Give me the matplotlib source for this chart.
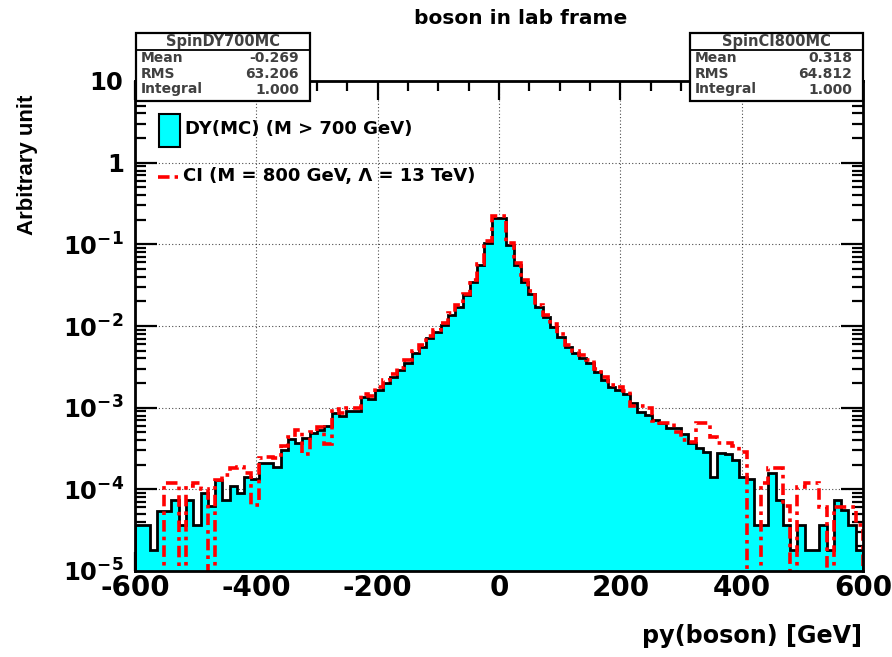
import numpy as np
import matplotlib
matplotlib.use("Agg")
import matplotlib.pyplot as plt
from matplotlib.patches import Rectangle
from matplotlib.lines import Line2D
import matplotlib.ticker as mticker

# ---------------- data ----------------
edges = np.linspace(-600, 600, 101)

dy_values = [
    3.7e-5, 3.7e-5, 1.8e-5, 5.5e-5, 5.5e-5, 7.4e-5, 3.7e-5, 7.4e-5, 3.7e-5, 9.1e-5,
    6.2e-5, 1.3e-4, 7.4e-5, 1.1e-4, 9.1e-5, 1.4e-4, 1.35e-4, 2.1e-4, 2.1e-4, 1.9e-4,
    3.0e-4, 4.1e-4, 3.7e-4, 4.3e-4, 4.9e-4, 5.4e-4, 5.9e-4, 8.7e-4, 7.9e-4, 9.1e-4,
    9.1e-4, 1.35e-3, 1.26e-3, 1.66e-3, 2.0e-3, 2.4e-3, 2.9e-3, 3.5e-3, 4.7e-3, 5.5e-3,
    7.1e-3, 8.5e-3, 1.02e-2, 1.38e-2, 1.7e-2, 2.4e-2, 3.5e-2, 5.6e-2, 0.105, 0.21,
    0.21, 0.098, 5.6e-2, 3.5e-2, 2.5e-2, 1.7e-2, 1.29e-2, 9.8e-3, 7.4e-3, 5.5e-3,
    4.7e-3, 4.1e-3, 3.5e-3, 2.75e-3, 2.2e-3, 1.8e-3, 1.66e-3, 1.45e-3, 1.15e-3, 8.9e-4,
    8.1e-4, 7.1e-4, 6.5e-4, 5.6e-4, 5.6e-4, 4.7e-4, 3.7e-4, 3.2e-4, 2.9e-4, 1.4e-4,
    2.8e-4, 2.7e-4, 2.3e-4, 1.4e-4, 1.35e-4, 3.7e-5, 3.7e-5, 1.6e-4, 7.4e-5, 3.7e-5,
    1.8e-5, 3.7e-5, 1.8e-5, 1.8e-5, 3.7e-5, 1.8e-5, 7.4e-5, 5.6e-5, 3.7e-5, 1.8e-5,
]

ci_values = [
    0, 0, 0, 0, 1.2e-4, 1.2e-4, 0, 1.1e-4, 1.2e-4, 1.0e-4,
    0, 1.3e-4, 1.5e-4, 1.8e-4, 1.9e-4, 1.6e-4, 6.4e-5, 2.4e-4, 2.5e-4, 2.4e-4,
    3.4e-4, 4.4e-4, 5.4e-4, 2.7e-4, 5.0e-4, 5.8e-4, 3.6e-4, 9.5e-4, 8.7e-4, 1.0e-3,
    1.0e-3, 1.45e-3, 1.4e-3, 1.8e-3, 2.2e-3, 2.6e-3, 3.1e-3, 3.8e-3, 5.0e-3, 5.9e-3,
    7.6e-3, 9.0e-3, 1.1e-2, 1.45e-2, 1.8e-2, 2.5e-2, 3.7e-2, 5.8e-2, 0.11, 0.22,
    0.22, 0.105, 5.9e-2, 3.7e-2, 2.7e-2, 1.8e-2, 1.38e-2, 1.05e-2, 8.0e-3, 5.9e-3,
    5.0e-3, 4.4e-3, 3.8e-3, 3.0e-3, 2.4e-3, 1.9e-3, 1.8e-3, 1.6e-3, 1.05e-3, 1.05e-3,
    1.0e-3, 6.8e-4, 6.5e-4, 6.5e-4, 5.0e-4, 4.0e-4, 3.8e-4, 6.5e-4, 6.5e-4, 4.4e-4,
    3.7e-4, 3.7e-4, 3.4e-4, 2.9e-4, 0, 0, 1.2e-4, 1.8e-4, 1.8e-4, 6.2e-5,
    0, 1.07e-4, 1.2e-4, 1.2e-4, 6.0e-5, 0, 6.0e-5, 6.0e-5, 6.0e-5, 3.7e-5,
]

y_decades = [1e-5, 1e-4, 1e-3, 1e-2, 1e-1, 1, 10]
x_ticks = [-600, -400, -200, 0, 200, 400, 600]

title = "boson in lab frame"
xlabel = "py(boson) [GeV]"
ylabel = "Arbitrary unit"
legend_dy = "DY(MC) (M > 700 GeV)"
legend_ci = "CI (M = 800 GeV, \u039b = 13 TeV)"
stats_dy = ("SpinDY700MC", [("Mean", "-0.269"), ("RMS", "63.206"), ("Integral", "1.000")])
stats_ci = ("SpinCI800MC", [("Mean", "0.318"), ("RMS", "64.812"), ("Integral", "1.000")])

# ---------------- figure ----------------
W, H = 892, 657
plt.rcParams['font.family'] = ['DejaVu Sans']
plt.rcParams['mathtext.fontset'] = 'dejavusans'
plt.rcParams['axes.unicode_minus'] = False
fig = plt.figure(figsize=(W / 100, H / 100), dpi=100)


def fx(x):
    return x / W


def fy(y):
    return 1 - y / H


L, R, T, B = 135, 863, 81, 571
ax = fig.add_axes([fx(L), fy(B), fx(R - L), (B - T) / H])

dy = np.array(dy_values, dtype=float)
ci = np.array(ci_values, dtype=float)
floor = 1e-9
ax.stairs(np.where(dy > 0, dy, floor), edges, baseline=floor, fill=True,
          facecolor='#00FFFF', edgecolor='none', zorder=2)
ax.stairs(np.where(dy > 0, dy, floor), edges, baseline=floor, fill=False,
          color='black', linewidth=2.0, zorder=3)
red_style = (0, (3.2, 1.4, 1.0, 1.4))
ax.stairs(np.where(ci > 0, ci, floor), edges, baseline=floor, fill=False,
          color='red', linewidth=2.6, linestyle=red_style, zorder=4)

ax.set_yscale('log')
ax.set_xlim(x_ticks[0], x_ticks[-1])
ax.set_ylim(y_decades[0], y_decades[-1])


def yfmt(v, pos):
    e = int(round(np.log10(v)))
    if e == 0:
        return r'$\mathbf{1}$'
    if e == 1:
        return r'$\mathbf{10}$'
    return r'$\mathbf{10^{%d}}$' % e


minor_y = [k * d for d in y_decades[:-1] for k in range(2, 10)]
ax.yaxis.set_major_locator(mticker.FixedLocator(y_decades))
ax.yaxis.set_minor_locator(mticker.FixedLocator(minor_y))
ax.yaxis.set_major_formatter(mticker.FuncFormatter(yfmt))
ax.yaxis.set_minor_formatter(mticker.NullFormatter())
ax.xaxis.set_major_locator(mticker.FixedLocator(x_ticks))
ax.xaxis.set_minor_locator(mticker.FixedLocator(np.arange(-550, 600, 50)))
ax.xaxis.set_major_formatter(mticker.FuncFormatter(lambda v, p: '%d' % v))
ax.xaxis.set_minor_formatter(mticker.NullFormatter())

ax.tick_params(axis='both', which='both', direction='in', top=True, right=True,
               width=1.6, colors='black')
ax.tick_params(axis='x', which='major', length=14, labelsize=20, pad=2)
ax.tick_params(axis='x', which='minor', length=7)
ax.tick_params(axis='y', which='major', length=16, labelsize=17.5, pad=8)
ax.tick_params(axis='y', which='minor', length=8)
for lab in ax.get_xticklabels():
    lab.set_fontweight('bold')
ax.xaxis.get_offset_text().set_visible(False)
ax.yaxis.get_offset_text().set_visible(False)
ax.xaxis.label.set_visible(False)
ax.yaxis.label.set_visible(False)

for s in ax.spines.values():
    s.set_linewidth(2)
    s.set_zorder(6)

ax.grid(True, which='major', linestyle=(0, (1, 2)), color='black', linewidth=0.8, alpha=0.7, zorder=1)
ax.set_axisbelow(True)

# title and axis labels
fig.text(fx(521), fy(18), title, ha='center', va='center', fontsize=14.5, fontweight='bold')
fig.text(fx(862), fy(636), xlabel, ha='right', va='center', fontsize=17.2, fontweight='bold')
fig.text(fx(27), fy(165), ylabel, ha='center', va='center', rotation=90, fontsize=16,
         fontweight='bold', family=['Liberation Sans', 'DejaVu Sans'])


# stat boxes
def stat_box(x0, x1, y0, y1, header, rows):
    rect = Rectangle((fx(x0), fy(y1)), fx(x1 - x0), (y1 - y0) / H, transform=fig.transFigure,
                     facecolor='white', edgecolor='black', linewidth=1.6, zorder=10)
    fig.add_artist(rect)
    fig.add_artist(Line2D([fx(x0), fx(x1)], [fy(50), fy(50)], transform=fig.transFigure,
                          color='black', linewidth=1.3, zorder=11))
    fig.text(fx((x0 + x1) / 2), fy(41.5), header, ha='center', va='center', fontsize=10.5,
             fontweight='bold', color='#404040', zorder=12)
    for i, (k, v) in enumerate(rows):
        yy = 58.5 + i * 15.5
        fig.text(fx(x0 + 5), fy(yy), k, ha='left', va='center', fontsize=10, fontweight='bold',
                 color='#404040', zorder=12)
        fig.text(fx(x1 - 11), fy(yy), v, ha='right', va='center', fontsize=10, fontweight='bold',
                 color='#404040', zorder=12)


stat_box(136, 310, 33, 101, *stats_dy)
stat_box(690, 863, 33, 101, *stats_ci)

# legend
fig.add_artist(Rectangle((fx(159), fy(147)), fx(21), 33 / H, transform=fig.transFigure,
                         facecolor='#00FFFF', edgecolor='black', linewidth=1.5, zorder=10))
fig.text(fx(185), fy(129), legend_dy, ha='left', va='center', fontsize=13, fontweight='bold', zorder=12)
fig.add_artist(Line2D([fx(158), fx(178)], [fy(177), fy(177)], transform=fig.transFigure,
                      color='red', linewidth=2.6, linestyle=red_style, zorder=11))
fig.text(fx(183), fy(176), legend_ci, ha='left', va='center', fontsize=13, fontweight='bold', zorder=12)

fig.savefig('out.png', dpi=100)
